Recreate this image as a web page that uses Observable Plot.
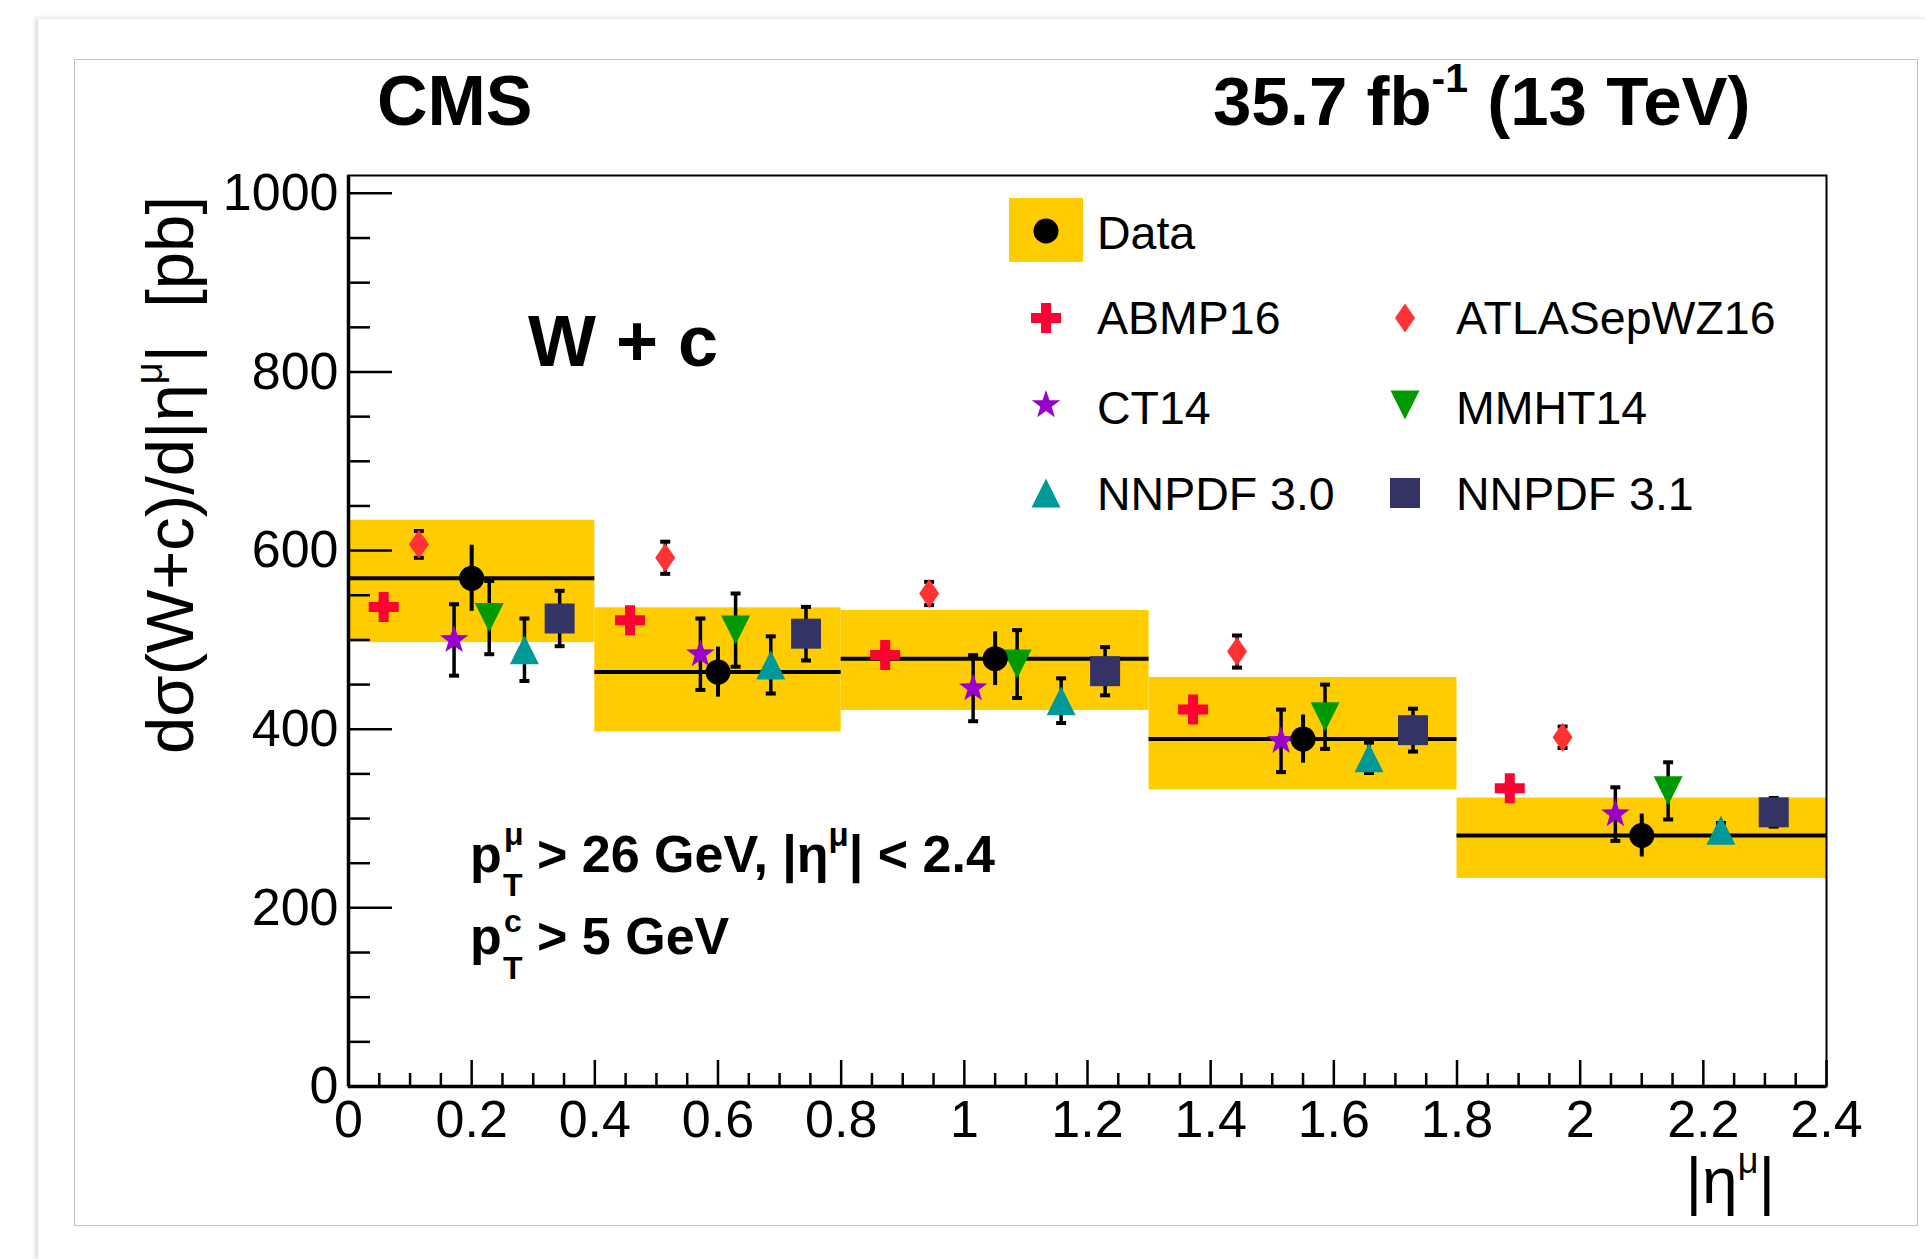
<!DOCTYPE html>
<html><head><meta charset="utf-8">
<script src="https://cdn.jsdelivr.net/npm/d3@7"></script>
<script src="https://cdn.jsdelivr.net/npm/@observablehq/plot@0.6"></script>
<style>
html,body{margin:0;padding:0;background:#fff;overflow:hidden;width:1925px;height:1259px;}
#card{position:absolute;left:38px;top:18px;width:1890px;height:1241px;background:#fff;border-top:1px solid #ebebeb;box-shadow:-3px 0 4px rgba(0,0,0,0.14);}
#inner{position:absolute;left:74px;top:59px;width:1842px;height:1165px;border:1px solid #c0c0c0;}
#chart{position:absolute;left:0;top:0;width:1925px;height:1259px;}
</style></head><body>
<div id="card"></div><div id="inner"></div><div id="chart"></div>
<script>
// ---------------- data ----------------
const binLo = [0, 0.4, 0.8, 1.3, 1.8];
const binHi = [0.4, 0.8, 1.3, 1.8, 2.4];
const dataValue = [569, 464, 479, 389, 281];
const dataStatErr = [37, 28, 30, 27, 24];
const dataBandLo = [497, 397, 421, 332, 233];
const dataBandHi = [634, 536, 533, 458, 323];

const seriesNames = ["ABMP16", "ATLASepWZ16", "CT14", "MMHT14", "NNPDF 3.0", "NNPDF 3.1"];
const abmp16 = [537, 522, 483, 422, 334];
const abmp16Err = [5, 5, 5, 5, 5];
const atlasepwz16 = [607, 592, 552, 487, 391];
const atlasepwz16Err = [15, 18, 13, 18, 12];
const ct14 = [500, 484, 446, 387, 305];
const ct14Err = [40, 40, 37, 35, 30];
const mmht14 = [525, 511, 473, 414, 331];
const mmht14Err = [41, 41, 38, 36, 32];
const nnpdf30 = [489, 472, 432, 368, 287];
const nnpdf30Err = [35, 32, 25, 17, 8];
const nnpdf31 = [524, 507, 465, 399, 307];
const nnpdf31Err = [31, 30, 27, 24, 16];

const yMajorTicks = [0, 200, 400, 600, 800, 1000];
const xMajorTicks = [0, 0.2, 0.4, 0.6, 0.8, 1, 1.2, 1.4, 1.6, 1.8, 2, 2.2, 2.4];
const xTickLabels = ["0", "0.2", "0.4", "0.6", "0.8", "1", "1.2", "1.4", "1.6", "1.8", "2", "2.2", "2.4"];

// ---------------- styling ----------------
const FONT = "'Liberation Sans', Arial, Helvetica, sans-serif";
const YELLOW = "#FFCC00";
const W = 1925, H = 1259;
const mL = 348, mT = 175, mR = W - 1826, mB = H - 1086;
const frameW = W - mL - mR, frameH = H - mT - mB;

// custom ROOT-like markers (size = pi r^2)
const rad = s => Math.sqrt(s / Math.PI);
const symCross = {draw(c, s) { const r = rad(s), t = r / 3;
  c.moveTo(-t, -r); c.lineTo(t, -r); c.lineTo(t, -t); c.lineTo(r, -t); c.lineTo(r, t); c.lineTo(t, t);
  c.lineTo(t, r); c.lineTo(-t, r); c.lineTo(-t, t); c.lineTo(-r, t); c.lineTo(-r, -t); c.lineTo(-t, -t); c.closePath(); }};
const symDiamond = {draw(c, s) { const r = rad(s), w = r * 0.69;
  c.moveTo(0, -r); c.lineTo(w, 0); c.lineTo(0, r); c.lineTo(-w, 0); c.closePath(); }};
const symStar = {draw(c, s) { const r = rad(s), ri = r * 0.4;
  for (let i = 0; i < 10; i++) { const a = -Math.PI / 2 + i * Math.PI / 5, rr = i % 2 ? ri : r;
    const px = rr * Math.cos(a), py = rr * Math.sin(a); i ? c.lineTo(px, py) : c.moveTo(px, py); }
  c.closePath(); }};
const symTriDown = {draw(c, s) { const r = rad(s);
  c.moveTo(-r, -r); c.lineTo(r, -r); c.lineTo(0, r); c.closePath(); }};
const symTriUp = {draw(c, s) { const r = rad(s);
  c.moveTo(0, -r); c.lineTo(r, r); c.lineTo(-r, r); c.closePath(); }};
const symSquare = {draw(c, s) { const r = rad(s);
  c.moveTo(-r, -r); c.lineTo(r, -r); c.lineTo(r, r); c.lineTo(-r, r); c.closePath(); }};
const symCap = {draw(c, s) { c.rect(-5, -2, 10, 4); }};

const seriesStyle = [
  {sym: symCross, r: 15, color: "#FF0033"},
  {sym: symDiamond, r: 14.5, color: "#FF3333"},
  {sym: symStar, r: 15, color: "#9900CC"},
  {sym: symTriDown, r: 14.5, color: "#009900"},
  {sym: symTriUp, r: 14.5, color: "#009999"},
  {sym: symSquare, r: 15, color: "#333366"}
];
const seriesValues = [abmp16, atlasepwz16, ct14, mmht14, nnpdf30, nnpdf31];
const seriesErrors = [abmp16Err, atlasepwz16Err, ct14Err, mmht14Err, nnpdf30Err, nnpdf31Err];

// ---------------- tables ----------------
const dataRows = binLo.map((lo, i) => ({
  lo, hi: binHi[i], x: (lo + binHi[i]) / 2, v: dataValue[i],
  e1: dataValue[i] - dataStatErr[i], e2: dataValue[i] + dataStatErr[i],
  bl: dataBandLo[i], bh: dataBandHi[i]
}));
const theoryRows = seriesNames.map((name, k) => binLo.map((lo, i) => ({
  name, x: lo + (binHi[i] - lo) * (k + 1) / 7,
  v: seriesValues[k][i], e1: seriesValues[k][i] - seriesErrors[k][i], e2: seriesValues[k][i] + seriesErrors[k][i]
})));

const isMajor = (v, step) => Math.abs(v / step - Math.round(v / step)) < 1e-6;
const yMinorTicks = d3.range(50, 1001, 50).filter(v => !isMajor(v, 200));
const xMinorTicks = d3.range(0.05, 2.4, 0.05).filter(v => !isMajor(v, 0.2));

const marks = [
  Plot.rect(dataRows, {x1: "lo", x2: "hi", y1: "bl", y2: "bh", fill: YELLOW}),
  Plot.ruleY(dataRows, {x1: "lo", x2: "hi", y: "v", stroke: "black", strokeWidth: 4})
];
theoryRows.forEach((rows, k) => {
  const st = seriesStyle[k];
  marks.push(
    Plot.ruleX(rows, {x: "x", y1: "e1", y2: "e2", stroke: "black", strokeWidth: 3.5}),
    Plot.dot(rows, {x: "x", y: "e1", symbol: symCap, r: 5, fill: "black", stroke: "none"}),
    Plot.dot(rows, {x: "x", y: "e2", symbol: symCap, r: 5, fill: "black", stroke: "none"}),
    Plot.dot(rows, {x: "x", y: "v", symbol: st.sym, r: st.r, fill: st.color, stroke: "none"})
  );
});
marks.push(
  Plot.ruleX(dataRows, {x: "x", y1: "e1", y2: "e2", stroke: "black", strokeWidth: 4}),
  Plot.dot(dataRows, {x: "x", y: "v", r: 12.5, fill: "black", stroke: "none"}),
  Plot.frame({stroke: "black", strokeWidth: 2}),
  Plot.ruleX([0], {x: d => d, stroke: "black", strokeWidth: 3.5}),
  Plot.ruleY([0], {y: d => d, stroke: "black", strokeWidth: 3.5}),
  Plot.tickY(yMajorTicks, {y: d => d, insetRight: frameW - 44, stroke: "black", strokeWidth: 2.5}),
  Plot.tickY(yMinorTicks, {y: d => d, insetRight: frameW - 22, stroke: "black", strokeWidth: 2.5}),
  Plot.tickX(xMajorTicks, {x: d => d, insetTop: frameH - 26, stroke: "black", strokeWidth: 2.5}),
  Plot.tickX(xMinorTicks, {x: d => d, insetTop: frameH - 13, stroke: "black", strokeWidth: 2.5}),
  Plot.axisY({ticks: yMajorTicks, tickSize: 0, tickPadding: 10, fontSize: 52, label: null, tickFormat: d => String(d)}),
  Plot.axisX({ticks: xMajorTicks, tickSize: 0, tickPadding: 14, fontSize: 52, label: null,
    tickFormat: d => xTickLabels[xMajorTicks.indexOf(d)]})
);

const chart = Plot.plot({
  width: W, height: H,
  marginLeft: mL, marginTop: mT, marginRight: mR, marginBottom: mB,
  x: {domain: [0, 2.4]},
  y: {domain: [0, 1020]},
  style: {fontFamily: FONT, background: "transparent", overflow: "visible", color: "black"},
  marks
});
document.getElementById("chart").appendChild(chart);

// ---------------- annotations ----------------
const svg = d3.select(chart);
function rich(x, y, parts, size, weight, opts = {}) {
  const t = svg.append("text").attr("x", x).attr("y", y)
    .attr("font-size", size).attr("font-weight", weight)
    .attr("text-anchor", opts.anchor || "start").attr("fill", "black")
    .style("font-family", FONT).style("white-space", "pre");
  if (opts.rotate) t.attr("transform", `rotate(${opts.rotate},${x},${y})`);
  let cur = 0;
  for (const p of parts) {
    const tgt = p.off || 0;
    const s = t.append("tspan").text(p.t).attr("dy", tgt - cur);
    if (p.size) s.attr("font-size", p.size);
    cur = tgt;
  }
  return t;
}

rich(377, 125, [{t: "CMS"}], 70, "bold");
rich(1213, 125, [{t: "35.7 fb"}, {t: "-1", off: -33, size: 41}, {t: " (13 TeV)", off: 0}], 69, "bold");
rich(528, 366, [{t: "W + c"}], 72, "bold");

// y title
rich(193, 196, [{t: "dσ(W+c)/d|η"}, {t: "μ", off: -31, size: 38}, {t: "|  [pb]", off: 0}], 67, "normal", {anchor: "end", rotate: -90});
// x title
rich(1775, 1203, [{t: "|η"}, {t: "μ", off: -30, size: 36}, {t: "|", off: 0}], 64, "normal", {anchor: "end"});

// selection text
rich(470, 872, [{t: "p"}], 52, "bold");
rich(503, 896, [{t: "T"}], 32, "bold");
rich(504, 845, [{t: "μ"}], 32, "bold");
rich(537, 872, [{t: "> 26 GeV, |η"}, {t: "μ", off: -26, size: 33}, {t: "| < 2.4", off: 0}], 52, "bold");
rich(470, 954, [{t: "p"}], 52, "bold");
rich(503, 979, [{t: "T"}], 32, "bold");
rich(504, 932, [{t: "c"}], 32, "bold");
rich(537, 954, [{t: "> 5 GeV"}], 52, "bold");

// legend
const lg = svg.append("g");
lg.append("rect").attr("x", 1009).attr("y", 198).attr("width", 74).attr("height", 64).attr("fill", YELLOW);
lg.append("circle").attr("cx", 1046).attr("cy", 231).attr("r", 12.5).attr("fill", "black");
rich(1097, 249, [{t: "Data"}], 46.5, "normal");
const legendPos = [
  {mx: 1046, my: 318, tx: 1097, ty: 334},
  {mx: 1405, my: 318, tx: 1456, ty: 334},
  {mx: 1046, my: 405, tx: 1097, ty: 424},
  {mx: 1405, my: 405, tx: 1456, ty: 424},
  {mx: 1046, my: 493, tx: 1097, ty: 510},
  {mx: 1405, my: 493, tx: 1456, ty: 510}
];
seriesNames.forEach((name, k) => {
  const st = seriesStyle[k], p = legendPos[k];
  lg.append("path").attr("d", d3.symbol(st.sym, Math.PI * st.r * st.r)())
    .attr("transform", `translate(${p.mx},${p.my})`).attr("fill", st.color);
  rich(p.tx, p.ty, [{t: name}], 46.5, "normal");
});
</script></body></html>
